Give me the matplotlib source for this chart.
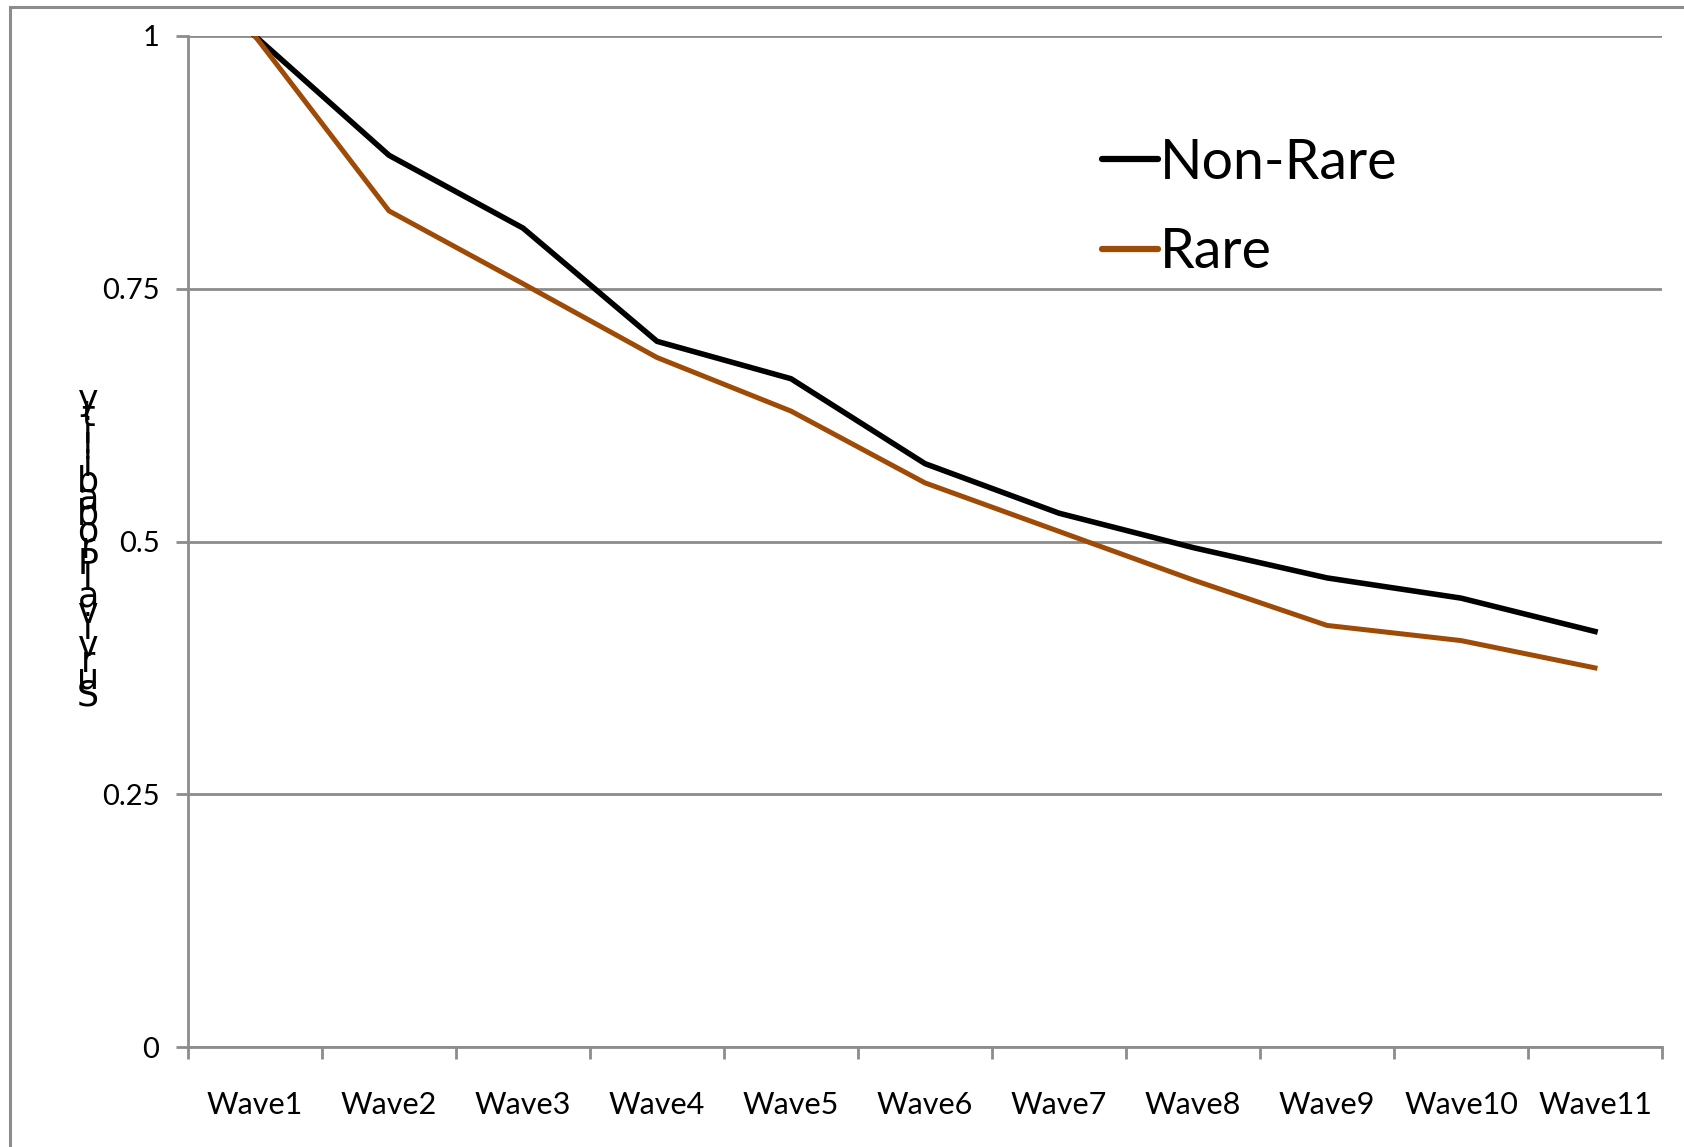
import matplotlib.pyplot as plt
from matplotlib.patches import Rectangle

# Survival probability by wave
waves = ["Wave1", "Wave2", "Wave3", "Wave4", "Wave5", "Wave6",
         "Wave7", "Wave8", "Wave9", "Wave10", "Wave11"]
non_rare = [1.0, 0.882, 0.810, 0.698, 0.661, 0.577, 0.528, 0.494, 0.464, 0.444, 0.411]
rare = [1.0, 0.827, 0.755, 0.682, 0.629, 0.558, 0.510, 0.462, 0.417, 0.402, 0.375]
y_ticks = [0, 0.25, 0.5, 0.75, 1]
y_tick_labels = ["0", "0.25", "0.5", "0.75", "1"]
y_label = "SurvivalProbability"

GRID = "#8c8c8c"
RARE_COLOR = "#9e4b08"
W, H = 1684, 1147

plt.rcParams["font.family"] = ["Lato", "DejaVu Sans"]

fig = plt.figure(figsize=(W / 100, H / 100), dpi=100)
ax = fig.add_axes([188 / W, 1 - 1047 / H, (1662 - 188) / W, (1047 - 36) / H])

x = list(range(1, len(waves) + 1))
ax.plot(x, non_rare, color="black", lw=4, label="Non-Rare", zorder=3)
ax.plot(x, rare, color=RARE_COLOR, lw=3.6, label="Rare", zorder=3)

ax.set_xlim(0.5, len(waves) + 0.5)
ax.set_ylim(0, 1)

# category labels centred, tick marks on bin boundaries
ax.set_xticks(x)
ax.set_xticklabels(waves, fontsize=22)
ax.set_xticks([i + 0.5 for i in range(len(waves) + 1)], minor=True)
ax.tick_params(axis="x", which="major", length=0, pad=32)
ax.tick_params(axis="x", which="minor", length=8.6, width=2, color=GRID, direction="out")

ax.set_yticks(y_ticks)
ax.set_yticklabels(y_tick_labels, fontsize=21)
ax.tick_params(axis="y", length=8.6, width=2, color=GRID, pad=12)

ax.grid(axis="y", color=GRID, lw=2)
ax.set_axisbelow(True)
for side in ["top", "right"]:
    ax.spines[side].set_visible(False)
for side in ["left", "bottom"]:
    ax.spines[side].set_color(GRID)
    ax.spines[side].set_linewidth(2)

leg = ax.legend(loc="upper left", bbox_to_anchor=((1052 - 188) / (1662 - 188), 0.949),
                frameon=False, fontsize=40, handlelength=1.0, handletextpad=0.05,
                labelspacing=0.7)
for line in leg.get_lines():
    line.set_solid_capstyle("round")
    line.set_linewidth(4.5)

# stacked y label characters, read bottom to top
base_top, base_bottom = 410, 705
step = (base_bottom - base_top) / (len(y_label) - 1)
for i, ch in enumerate(y_label):
    yb = base_bottom - i * step
    fig.text(88 / W, 1 - yb / H, ch, ha="center", va="baseline",
             fontsize=25, family="DejaVu Sans")

# outer border of the chart area
fig.patches.append(Rectangle((10 / W, -0.05), 1.1, 1 - 7 / H + 0.05,
                             transform=fig.transFigure, fill=False,
                             edgecolor=GRID, lw=2.2))

fig.savefig("out.png", dpi=100)
